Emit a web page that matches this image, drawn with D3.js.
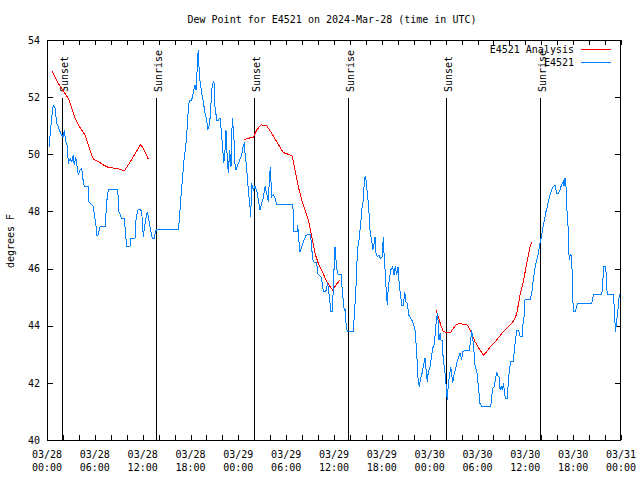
<!DOCTYPE html>
<html><head><meta charset="utf-8">
<script src="https://cdn.jsdelivr.net/npm/d3@7"></script>
<style>
body{margin:0;background:#fff;}
text{font-family:"DejaVu Sans Mono",monospace;font-size:10px;fill:#000;}
</style></head>
<body><svg id="c" width="640" height="480"></svg>
<script>
const title = "Dew Point for E4521 on 2024-Mar-28 (time in UTC)";
const yLabel = "degrees F";
const startUTC = Date.UTC(2024, 2, 28, 0, 0);
const endUTC = Date.UTC(2024, 2, 31, 0, 0);
const yTicks = [40, 42, 44, 46, 48, 50, 52, 54];
const seriesNames = ["E4521 Analysis", "E4521"];
const seriesColors = ["#ff0000", "#0080ff"];
// sun events: hours after 03/28 00:00 UTC
const sunHours = [1.88, 13.67, 25.97, 37.76, 50.05, 61.84];
const sunLabels = ["Sunset", "Sunrise", "Sunset", "Sunrise", "Sunset", "Sunrise"];

// observed (E4521): hours after start, dew point F
const obsHours = [0.25,0.59,0.79,1.00,1.22,1.42,1.63,1.84,2.04,2.17,2.35,2.55,2.67,2.89,3.10,3.30,3.42,3.60,3.76,3.93,4.14,4.35,4.55,4.68,5.18,5.27,5.81,6.15,6.23,6.40,6.65,7.28,7.36,7.49,7.69,8.87,9.03,9.37,9.70,9.87,10.00,10.41,10.54,11.04,11.13,11.38,11.67,11.88,12.08,12.21,12.38,12.58,12.71,12.83,13.05,13.21,13.46,13.59,13.76,16.47,16.60,16.81,16.97,17.19,17.40,17.56,17.72,17.85,18.15,18.28,18.40,18.56,18.69,18.78,18.85,18.98,19.10,19.23,19.41,19.61,19.82,20.03,20.16,20.32,20.48,20.66,20.86,20.95,21.07,21.29,21.49,21.70,21.83,21.99,22.17,22.33,22.45,22.58,22.74,22.92,23.08,23.24,23.42,23.58,23.71,24.00,24.42,24.62,24.75,24.84,25.05,25.25,25.46,25.55,25.68,25.88,26.09,26.30,26.51,26.72,26.93,27.13,27.35,27.56,27.76,27.89,28.01,28.19,28.39,28.60,28.81,30.77,30.90,30.98,31.36,31.45,31.61,31.74,31.95,32.15,32.36,32.49,32.99,33.12,33.28,33.40,33.83,33.96,34.37,34.53,34.66,34.96,35.21,35.37,35.50,35.59,35.79,35.96,36.04,36.13,36.25,36.42,36.63,36.88,37.04,37.17,37.29,37.38,37.51,37.67,38.42,38.51,38.64,38.76,38.85,38.97,39.14,39.26,39.39,39.51,39.68,39.77,39.89,40.02,40.18,40.36,40.43,40.56,40.73,40.86,41.02,41.15,41.27,41.43,41.65,41.77,42.02,42.11,42.19,42.31,42.44,42.56,42.69,42.81,42.94,43.11,43.36,43.53,43.69,43.87,44.03,44.20,44.37,44.50,44.70,44.87,45.03,45.20,45.37,45.54,45.75,45.95,46.16,46.29,46.45,46.54,46.70,46.88,47.04,47.20,47.42,47.63,47.70,47.83,48.04,48.26,48.38,48.55,48.67,48.80,48.96,49.05,49.17,49.30,49.42,49.55,49.71,49.89,50.01,50.14,50.21,50.34,50.46,50.64,50.76,50.89,51.05,51.22,51.39,51.59,51.81,52.02,52.14,52.65,52.97,53.15,53.27,53.47,53.60,53.72,53.90,54.15,54.31,54.52,55.66,55.78,55.91,56.07,56.24,56.41,56.58,56.70,56.83,56.99,57.14,57.24,57.37,57.49,57.74,57.83,57.99,58.17,58.50,58.62,58.79,58.96,59.15,59.34,59.59,59.67,59.84,59.96,60.59,60.80,60.93,61.09,61.25,61.43,61.63,61.76,61.93,62.09,62.26,62.43,62.59,62.76,62.93,63.10,63.31,63.51,63.72,63.93,64.14,64.35,64.47,64.76,64.85,64.98,65.10,65.19,65.36,65.44,65.52,65.61,65.77,65.86,65.95,66.02,66.24,66.45,66.52,68.33,68.45,68.53,69.58,69.71,69.79,70.09,70.20,70.28,71.03,71.12,71.24,71.33,71.41,71.53,71.66,71.78,71.87];
const obsDew = [50.25,51.3,51.72,51.62,51.1,50.95,50.8,50.67,50.62,50.85,50.44,50.3,49.68,49.85,49.74,49.97,49.62,49.9,49.6,49.27,49.45,49.5,49.04,48.87,48.87,48.34,48.17,47.47,47.17,47.17,47.47,47.47,47.76,48.34,48.75,48.77,47.99,47.76,47.76,47.17,46.77,46.77,47.06,47.06,47.64,48.05,48.08,47.99,47.12,47.41,47.7,47.99,47.84,47.58,47.29,47.06,47.06,47.29,47.38,47.38,47.7,48.52,49.1,49.8,50.27,50.85,51.55,51.9,51.9,52.07,52.25,52.43,52.25,52.48,53.24,53.65,52.83,52.48,52.13,51.84,51.43,51.2,50.85,51.0,51.32,52.25,52.54,52.5,51.67,51.2,51.2,51.26,50.91,50.38,49.68,50.15,50.85,50.03,49.33,50.15,49.57,51.26,50.73,49.68,49.45,49.68,49.97,50.32,50.38,50.03,49.5,48.75,48.17,47.82,48.98,48.75,48.87,48.75,48.4,48.05,48.29,48.46,48.87,48.63,48.34,49.1,49.57,48.52,48.58,48.46,48.26,48.26,47.99,47.29,47.29,47.52,46.94,46.59,46.77,46.94,47.06,47.17,47.2,47.0,46.47,46.24,46.2,45.83,45.7,45.48,45.19,45.19,45.48,45.13,44.78,44.49,44.49,45.6,46.3,46.77,46.3,45.83,45.78,45.8,45.25,44.84,44.55,44.6,44.08,43.79,43.79,44.2,44.78,45.37,46.07,46.71,47.0,47.35,47.7,48.11,48.4,48.87,49.22,49.1,48.63,48.17,47.64,47.23,47.0,46.65,46.85,47.12,46.53,46.42,46.47,46.36,46.4,46.77,47.12,46.3,45.83,45.13,44.72,45.37,45.6,45.95,46.07,45.78,46.07,45.78,46.07,45.37,45.02,44.72,44.72,45.19,44.84,44.78,44.37,44.3,44.2,44.08,43.85,43.38,42.68,42.16,41.87,42.16,42.33,42.56,42.86,42.22,42.04,42.39,42.56,42.97,43.21,43.33,43.62,44.08,44.43,44.2,43.5,43.73,43.5,43.5,42.8,42.45,42.1,41.64,41.4,41.93,42.22,42.56,42.33,41.98,42.27,42.45,42.68,42.86,43.03,42.8,43.09,43.15,43.15,43.5,43.85,43.38,42.97,42.51,42.45,41.75,41.28,41.17,41.17,41.52,41.81,41.85,42.1,42.39,42.22,42.2,41.75,41.87,41.75,41.98,41.75,41.46,41.46,41.87,42.45,42.74,42.74,43.15,43.56,43.85,43.85,43.62,43.62,43.97,44.32,44.9,44.92,45.13,45.48,45.78,46.07,46.3,46.53,46.77,47.0,47.23,47.52,47.76,47.99,48.17,48.4,48.58,48.75,48.87,48.93,48.63,48.63,48.75,48.87,49.04,48.9,49.16,48.87,48.17,47.47,46.65,46.3,46.5,46.45,45.95,45.02,44.49,44.49,44.67,44.78,44.78,44.9,45.1,45.1,45.37,46.07,46.07,45.37,45.1,45.1,44.78,44.14,43.79,44.08,44.32,44.67,45.08,45.1];

// analysis (E4521 Analysis): null marks a gap
const anaHours = [0.66,1.00,1.42,1.84,2.26,2.67,3.10,3.51,3.93,4.35,4.77,5.18,5.61,5.81,6.44,7.06,7.69,8.53,9.16,9.66,10.20,10.83,11.75,12.29,12.71,
  18.0,
  24.75,25.25,25.88,26.30,26.84,27.56,28.19,28.81,29.64,30.27,30.77,31.11,31.52,31.95,32.36,32.78,33.20,33.62,34.03,34.53,35.09,35.50,35.84,36.25,36.75,
  42.0,
  48.76,49.09,49.39,49.71,50.14,50.64,50.97,51.39,51.81,52.22,52.77,53.27,53.69,54.31,54.73,55.15,55.78,56.41,57.04,57.66,58.29,58.71,58.92,59.12,59.34,59.75,60.17,60.59,60.80];
const anaDew = [52.91,52.72,52.48,52.31,52.13,51.96,51.61,51.26,51.03,50.85,50.67,50.32,49.97,49.83,49.74,49.63,49.54,49.51,49.48,49.41,49.63,49.92,50.35,50.09,49.83,
  null,
  50.52,50.56,50.6,50.85,51.03,51.0,50.73,50.44,50.06,50.0,49.94,49.45,48.87,48.4,48.05,47.7,47.12,46.53,46.18,45.89,45.54,45.37,45.25,45.43,45.6,
  null,
  44.57,44.32,44.02,43.79,43.77,43.77,43.91,44.05,44.08,44.05,44.02,43.73,43.44,43.15,42.97,43.09,43.32,43.5,43.73,43.91,44.08,44.26,44.43,44.73,45.08,45.54,46.18,46.77,46.94];

const toDate = h => new Date(startUTC + h * 3600e3);
const W = 640, H = 480, m = {l: 47, r: 19, t: 40, b: 40};
const svg = d3.select("#c");
const x = d3.scaleUtc().domain([new Date(startUTC), new Date(endUTC)]).range([m.l, W - m.r]);
const y = d3.scaleLinear().domain([40, 54]).range([H - m.b, m.t]);

// sun lines
const sun = svg.append("g");
sunHours.forEach((h, i) => {
  const sx = Math.round(x(toDate(h))) + 0.5;
  sun.append("line").attr("x1", sx).attr("x2", sx).attr("y1", 98).attr("y2", H - m.b)
    .attr("stroke", "#000").attr("stroke-width", 1);
  sun.append("text").attr("transform", `translate(${sx + 5},92) rotate(-90)`)
    .attr("text-anchor", "start").text(sunLabels[i]);
});

// axes (ticks inward, mirrored)
const xTickVals = d3.utcHour.every(2).range(new Date(startUTC), new Date(endUTC + 1));
const xLabelVals = d3.utcHour.every(6).range(new Date(startUTC), new Date(endUTC + 1));
const fmtD = d3.utcFormat("%m/%d"), fmtT = d3.utcFormat("%H:%M");
const xb = svg.append("g").attr("transform", `translate(0,${H - m.b})`)
  .call(d3.axisBottom(x).tickValues(xTickVals).tickSize(-5).tickFormat(""));
const xt = svg.append("g").attr("transform", `translate(0,${m.t})`)
  .call(d3.axisTop(x).tickValues(xTickVals).tickSize(-5).tickFormat(""));
const yl = svg.append("g").attr("transform", `translate(${m.l},0)`)
  .call(d3.axisLeft(y).tickValues(yTicks).tickSize(-6).tickPadding(7).tickFormat(d3.format("d")));
const yr = svg.append("g").attr("transform", `translate(${W - m.r},0)`)
  .call(d3.axisRight(y).tickValues(yTicks).tickSize(-6).tickFormat(""));
[xb, xt, yl, yr].forEach(g => {
  g.select(".domain").remove();
  g.selectAll("line").attr("stroke", "#000").attr("shape-rendering", "crispEdges");
  g.selectAll("text").attr("font-family", "DejaVu Sans Mono").attr("font-size", 10).attr("fill", "#000");
});
const xl = svg.append("g");
xLabelVals.forEach(d => {
  const t = xl.append("text").attr("x", x(d)).attr("text-anchor", "middle");
  t.append("tspan").attr("x", x(d)).attr("y", 458).text(fmtD(d));
  t.append("tspan").attr("x", x(d)).attr("y", 471).text(fmtT(d));
});

// border
svg.append("rect").attr("x", m.l + 0.5).attr("y", m.t + 0.5)
  .attr("width", W - m.l - m.r - 1).attr("height", H - m.t - m.b)
  .attr("fill", "none").attr("stroke", "#000").attr("shape-rendering", "crispEdges");

// data
const obs = obsHours.map((h, i) => ({t: toDate(h), v: obsDew[i]}));
const ana = anaHours.map((h, i) => ({t: toDate(h), v: anaDew[i]}));
const line = d3.line().defined(d => d.v != null).x(d => x(d.t)).y(d => y(d.v));
svg.append("path").datum(ana).attr("d", line).attr("fill", "none")
  .attr("stroke", seriesColors[0]).attr("stroke-width", 1).attr("shape-rendering", "crispEdges");
svg.append("path").datum(obs).attr("d", line).attr("fill", "none")
  .attr("stroke", seriesColors[1]).attr("stroke-width", 1).attr("shape-rendering", "crispEdges");

// title & labels
svg.append("text").attr("x", 332).attr("y", 23).attr("text-anchor", "middle").text(title);
svg.append("text").attr("transform", "translate(14,241) rotate(-90)").attr("text-anchor", "middle").text(yLabel);

// legend
const lg = svg.append("g");
seriesNames.forEach((n, i) => {
  const ly = 49.5 + i * 13;
  lg.append("text").attr("x", 574).attr("y", ly + 3.8).attr("text-anchor", "end").text(n);
  lg.append("line").attr("x1", 581).attr("x2", 611).attr("y1", ly).attr("y2", ly)
    .attr("stroke", seriesColors[i]).attr("stroke-width", 1).attr("shape-rendering", "crispEdges");
});
</script></body></html>
